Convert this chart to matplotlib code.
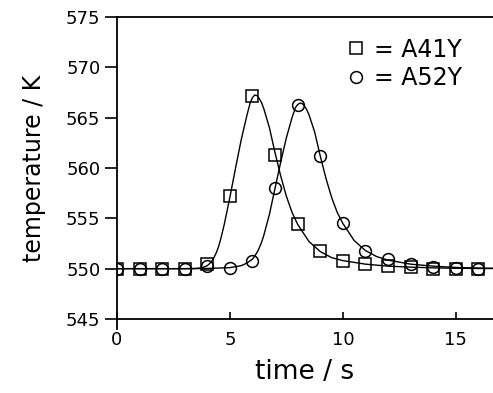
import numpy as np
import matplotlib
matplotlib.use("Agg")
import matplotlib.pyplot as plt

# measured points (time in s, temperature in K)
t_pts = [0, 1, 2, 3, 4, 5, 6, 7, 8, 9, 10, 11, 12, 13, 14, 15, 16]
a41y_pts = [550.0, 550.0, 550.0, 550.0, 550.5, 557.2, 567.2, 561.3, 554.4,
            551.8, 550.8, 550.5, 550.3, 550.2, 550.0, 550.0, 550.0]
a52y_pts = [550.0, 550.0, 550.0, 550.0, 550.3, 550.1, 550.8, 558.0, 566.3,
            561.2, 554.5, 551.8, 551.0, 550.5, 550.2, 550.1, 550.0]

# fitted curves
t_a41y = [0, 1, 2, 3, 3.5, 3.75, 4.0, 4.1, 4.25, 4.4, 4.5, 4.6, 4.75, 5.0,
          5.25, 5.5, 5.75, 5.9, 6.0, 6.1, 6.2, 6.3, 6.4, 6.5, 6.75, 7.0,
          7.25, 7.5, 7.75, 8.0, 8.5, 9.0, 9.5, 10, 11, 12, 13, 14, 15, 16, 17]
c_a41y = [550.0, 550.0, 550.0, 550.0, 550.02, 550.08, 550.3, 550.5, 550.9,
          551.6, 552.2, 553.0, 554.4, 557.1, 560.0, 562.8, 565.2, 566.5,
          567.0, 567.25, 567.2, 566.9, 566.5, 565.9, 564.0, 561.5, 559.2,
          557.2, 555.6, 554.4, 552.7, 551.7, 551.1, 550.8, 550.45, 550.25,
          550.15, 550.08, 550.04, 550.02, 550.01]

t_a52y = [0, 1, 2, 3, 4, 5.0, 5.5, 5.75, 6.0, 6.1, 6.25, 6.4, 6.5, 6.75,
          7.0, 7.25, 7.5, 7.75, 7.9, 8.0, 8.1, 8.2, 8.3, 8.4, 8.5, 8.75,
          9.0, 9.25, 9.5, 9.75, 10.0, 10.5, 11.0, 11.5, 12.0, 13, 14, 15,
          16, 17]
c_a52y = [550.0, 550.0, 550.0, 550.0, 550.02, 550.1, 550.3, 550.55, 550.95,
          551.25, 551.8, 552.6, 553.3, 555.4, 558.0, 560.6, 563.0, 565.0,
          566.0, 566.3, 566.45, 566.4, 566.15, 565.8, 565.3, 563.6, 561.2,
          559.0, 557.1, 555.6, 554.5, 552.8, 551.8, 551.2, 550.85, 550.45,
          550.25, 550.12, 550.06, 550.03]

plt.rcParams['font.family'] = ['DejaVu Sans']

fig = plt.figure(figsize=(4.93, 3.93), dpi=100)
ax = fig.add_axes([0.2373, 0.1883, 0.7627, 0.7684])

ax.plot(t_a41y, c_a41y, color='black', lw=1.0)
ax.plot(t_a52y, c_a52y, color='black', lw=1.0)
ax.plot(t_pts, a41y_pts, ls='none', marker='s', ms=8, mfc='none',
        mec='black', mew=1.1, label='= A41Y')
ax.plot(t_pts, a52y_pts, ls='none', marker='o', ms=8.5, mfc='none',
        mec='black', mew=1.1, label='= A52Y')

ax.set_xlim(0, 16.65)
ax.set_ylim(545, 575)
ax.set_xticks([0, 5, 10, 15])
ax.set_yticks([545, 550, 555, 560, 565, 570, 575])

for s in ['left', 'top', 'bottom']:
    ax.spines[s].set_linewidth(1.3)
ax.spines['right'].set_visible(False)
ax.spines['left'].set_bounds(544.0, 575)

ax.tick_params(axis='y', direction='out', length=9, width=1.2, pad=3,
               labelsize=13)
ax.tick_params(axis='x', direction='in', length=5, width=1.2, pad=9,
               labelsize=13)

ax.set_xlabel('time / s', fontsize=19, labelpad=7)
ax.set_ylabel('temperature / K', fontsize=17, labelpad=14)

ax.legend(loc='upper right', frameon=False, fontsize=17, handletextpad=0.25,
          handlelength=1.0, labelspacing=0.2, borderaxespad=0.6,
          bbox_to_anchor=(0.98, 1.01))

fig.savefig('out.png', dpi=100)
